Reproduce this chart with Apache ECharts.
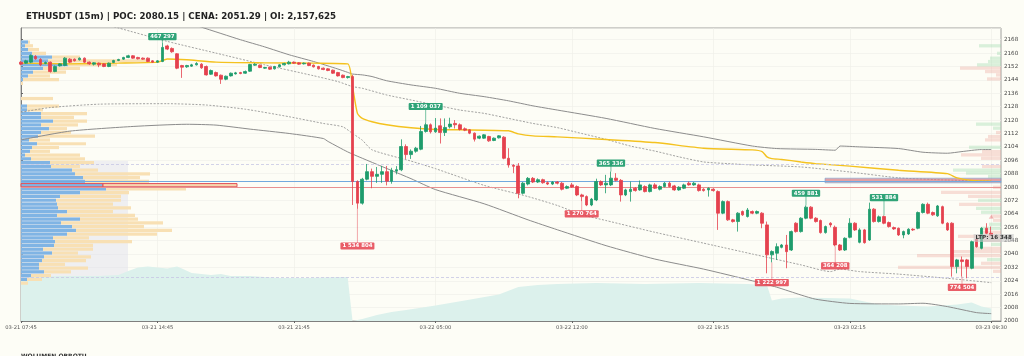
<!DOCTYPE html>
<html><head><meta charset="utf-8">
<script src="https://cdn.jsdelivr.net/npm/echarts@6/dist/echarts.min.js"></script>
<style>html,body{margin:0;padding:0;background:#fdfdf6}#c{width:1024px;height:356px}</style>
</head><body><div id="c"></div>
<script>
const TITLE = 'ETHUSDT (15m) | POC: 2080.15 | CENA: 2051.29 | OI: 2,157,625';
const FOOT = 'WOLUMEN OBROTU';
const tickIdx = [0, 28, 56, 85, 113, 142, 170, 199];
const tickLabels = ['03-21 07:45','03-21 14:45','03-21 21:45','03-22 05:00','03-22 12:00','03-22 19:15','03-23 02:15','03-23 09:30'];

// [open, close, low, high]
const candles = [
[2154.6,2153.4,2152.8,2155.2],[2154.0,2155.4,2153.6,2156.0],[2154.6,2158.6,2154.0,2159.2],[2158.0,2156.6,2156.0,2158.8],
[2156.2,2153.0,2152.2,2157.0],[2153.8,2154.4,2153.4,2155.0],[2154.6,2149.0,2148.4,2155.0],[2149.0,2152.0,2148.6,2152.6],
[2152.4,2153.6,2152.0,2154.0],[2152.6,2157.0,2152.2,2157.6],[2156.4,2154.6,2154.0,2157.0],[2156.4,2155.4,2155.0,2156.8],
[2156.0,2157.0,2155.6,2157.4],[2157.0,2154.6,2154.2,2157.4],[2154.6,2153.6,2153.0,2155.0],[2153.4,2154.2,2152.6,2154.6],
[2154.0,2153.0,2151.6,2154.4],[2153.6,2152.0,2151.6,2154.0],[2152.0,2154.0,2151.6,2154.4],[2154.4,2155.6,2154.0,2156.0],
[2155.6,2156.2,2155.2,2156.6],[2156.4,2157.4,2156.0,2157.8],[2157.4,2158.4,2157.0,2159.0],[2158.4,2157.0,2156.6,2158.8],
[2157.4,2156.6,2156.2,2157.8],[2157.0,2156.4,2156.0,2157.4],[2157.0,2155.0,2154.6,2157.4],[2155.4,2154.6,2154.2,2155.8],
[2154.6,2155.4,2154.2,2155.8],[2155.0,2163.4,2154.6,2166.0],
[2164.3,2162.4,2161.8,2165.0],[2162.8,2160.8,2160.2,2163.4],[2159.6,2151.0,2150.4,2160.0],[2152.6,2151.6,2145.2,2153.0],
[2151.8,2152.6,2151.2,2153.0],[2152.2,2153.0,2151.8,2153.6],[2153.0,2153.8,2152.6,2154.6],[2153.4,2151.2,2150.6,2154.0],
[2152.0,2147.0,2146.6,2152.6],[2147.4,2149.6,2147.0,2150.2],[2148.4,2146.4,2146.0,2149.0],[2146.8,2144.4,2141.6,2147.2],
[2144.4,2146.2,2143.8,2146.6],[2146.4,2148.0,2146.0,2148.4],[2147.6,2148.2,2147.2,2148.8],[2148.4,2147.8,2147.4,2148.8],
[2148.0,2149.0,2147.6,2149.6],[2149.2,2153.2,2148.8,2153.6],[2152.8,2153.4,2152.4,2154.0],[2152.8,2151.4,2151.0,2153.2],
[2151.0,2151.4,2150.6,2151.8],[2151.6,2150.4,2150.0,2152.0],[2150.6,2152.0,2150.2,2152.4],[2151.8,2153.0,2151.4,2153.4],
[2153.0,2153.8,2152.6,2154.2],[2153.6,2154.6,2153.2,2155.4],[2154.6,2154.0,2153.6,2155.0],[2154.2,2153.4,2153.0,2154.6],
[2153.6,2154.0,2153.2,2154.4],[2154.0,2152.6,2152.2,2154.4],[2152.8,2151.8,2151.4,2153.2],[2152.0,2150.6,2150.2,2152.4],
[2151.0,2150.2,2149.8,2151.4],[2150.6,2149.6,2149.2,2151.0],[2149.8,2148.0,2147.6,2150.2],[2148.4,2146.4,2146.0,2148.8],
[2146.8,2145.4,2145.0,2147.2],[2145.4,2146.0,2144.8,2146.4],
[2146.0,2083.3,2069.3,2147.0],[2083.3,2070.4,2067.0,2084.0],[2070.4,2084.7,2069.5,2085.5],[2084.7,2089.2,2084.0,2093.8],
[2089.2,2086.4,2079.3,2091.0],[2086.4,2087.6,2082.5,2092.0],[2087.6,2089.2,2082.5,2092.6],[2089.2,2083.5,2081.0,2092.6],
[2083.5,2090.0,2082.0,2091.5],[2089.5,2090.4,2087.6,2092.5],[2090.3,2104.2,2089.5,2108.5],[2104.2,2099.4,2096.8,2105.5],
[2099.4,2101.4,2096.8,2102.5],[2101.4,2103.2,2100.5,2104.0],[2102.6,2113.2,2102.0,2116.5],[2113.2,2117.2,2112.5,2118.5],
[2117.2,2113.0,2112.0,2118.0],[2113.0,2115.2,2112.4,2121.2],[2116.6,2112.6,2106.0,2121.0],[2112.6,2115.6,2110.5,2121.0],
[2116.0,2117.6,2115.0,2121.4],[2118.0,2117.2,2115.0,2120.0],
[2117.2,2114.4,2113.8,2118.0],[2114.8,2114.0,2113.4,2115.6],[2114.2,2112.2,2111.6,2114.6],[2112.2,2108.6,2107.2,2112.6],
[2109.2,2110.4,2108.6,2110.8],[2109.2,2111.2,2108.8,2111.6],[2110.2,2107.6,2107.0,2110.6],[2107.8,2109.2,2107.4,2109.6],
[2109.4,2110.6,2109.0,2111.0],[2109.8,2097.2,2096.6,2110.4],[2097.2,2093.2,2091.6,2103.2],[2093.0,2092.4,2088.3,2093.6],
[2092.6,2076.3,2073.3,2094.3],[2076.3,2082.3,2075.6,2083.0],[2081.8,2085.2,2081.0,2086.0],
[2085.2,2083.0,2082.4,2086.0],[2083.0,2084.4,2082.4,2085.2],[2084.4,2082.6,2082.0,2085.0],[2082.6,2081.8,2081.2,2083.4],
[2081.8,2083.0,2081.2,2083.6],[2083.0,2082.3,2081.6,2083.6],
[2082.3,2078.7,2078.0,2083.0],[2079.3,2080.3,2078.8,2081.0],[2081.3,2080.0,2079.5,2082.5],[2080.3,2075.3,2074.6,2081.0],
[2075.3,2074.3,2071.5,2076.0],[2074.3,2069.3,2068.6,2075.0],[2069.3,2072.8,2068.6,2073.5],[2072.3,2083.3,2071.6,2085.0],
[2083.3,2081.3,2080.6,2084.0],[2081.3,2082.3,2076.3,2087.3],[2081.3,2085.3,2080.6,2089.3],[2085.3,2084.0,2083.3,2088.3],
[2084.0,2075.3,2071.3,2084.8],[2075.3,2078.3,2074.6,2079.0],[2077.3,2078.7,2071.3,2083.3],[2079.3,2077.9,2077.3,2080.0],
[2078.3,2081.3,2077.8,2083.9],[2080.3,2077.3,2076.8,2081.0],[2077.3,2081.3,2076.8,2082.0],[2081.3,2079.3,2078.8,2082.3],
[2078.7,2080.3,2078.0,2081.0],[2080.3,2082.3,2079.8,2083.0],[2082.3,2080.3,2079.8,2083.3],[2080.7,2078.3,2077.8,2081.3],
[2078.3,2079.9,2077.8,2080.5],[2079.3,2081.3,2078.8,2082.0],[2082.3,2081.3,2080.8,2083.3],[2081.3,2082.3,2080.8,2083.0],
[2081.3,2077.9,2077.3,2082.0],[2078.7,2077.9,2077.3,2079.3],[2078.3,2079.3,2074.3,2079.8],[2078.7,2077.9,2077.3,2079.3],
[2077.3,2064.4,2054.4,2078.0],[2064.4,2071.3,2063.8,2072.0],[2071.3,2060.4,2059.8,2072.0],[2060.4,2059.4,2058.8,2061.0],
[2059.4,2064.4,2053.4,2065.0],[2065.4,2063.4,2062.8,2066.0],[2062.4,2066.3,2061.8,2067.5],[2065.4,2064.4,2063.8,2066.0],
[2064.4,2065.4,2063.8,2066.0],[2064.4,2058.4,2055.4,2065.0],[2057.4,2039.5,2028.5,2059.4],[2039.5,2041.5,2035.0,2042.2],
[2040.5,2044.4,2036.5,2046.4],[2044.0,2045.4,2043.4,2046.0],[2045.4,2041.4,2031.5,2051.4],[2042.4,2053.4,2041.8,2054.0],
[2058.4,2053.4,2052.8,2059.0],[2053.4,2061.4,2052.8,2062.0],[2061.4,2068.0,2060.8,2069.0],[2068.0,2061.4,2060.8,2068.6],
[2061.4,2059.4,2058.8,2062.0],[2060.0,2052.8,2052.2,2060.6],[2052.8,2056.4,2052.2,2057.0],[2058.4,2057.4,2056.0,2059.0],
[2056.0,2045.4,2044.6,2057.0],[2045.4,2042.4,2041.8,2046.0],[2042.4,2049.4,2041.8,2050.0],[2050.0,2058.4,2049.4,2061.4],
[2058.4,2054.4,2053.8,2059.0],[2047.0,2054.4,2046.4,2055.4],[2054.4,2046.8,2046.2,2055.0],[2048.4,2066.8,2047.8,2070.7],
[2066.8,2059.4,2058.8,2067.4],[2059.4,2062.2,2058.8,2063.0],[2062.4,2058.4,2057.8,2063.0],[2058.8,2056.4,2055.8,2059.4],
[2055.8,2055.0,2054.4,2056.4],[2055.4,2051.4,2050.8,2055.8],[2051.4,2053.4,2049.4,2054.0],[2052.0,2054.8,2051.4,2055.4],
[2054.8,2054.4,2053.8,2055.4],[2055.4,2064.8,2054.8,2065.4],[2064.8,2069.7,2064.2,2070.3],[2069.7,2064.4,2063.8,2070.7],
[2064.8,2063.4,2062.8,2065.4],[2062.8,2068.7,2062.2,2069.3],[2068.3,2058.4,2057.8,2068.9],[2058.4,2054.4,2053.8,2059.0],
[2058.4,2032.5,2026.5,2059.0],[2032.5,2036.5,2028.5,2037.1],[2036.5,2035.5,2026.5,2038.5],[2036.5,2032.5,2025.5,2037.1],
[2031.5,2047.4,2030.9,2048.0],[2048.8,2044.4,2043.8,2049.4],[2043.4,2055.4,2042.8,2056.0],[2055.4,2052.4,2051.8,2058.4],
[2052.4,2051.29,2050.8,2056.4]
];

// volume annotations: candle index, text, price where label sits
const annIdx   = [29, 69, 83, 115, 121, 154, 161, 167, 177, 193];
const annText  = ['467 297','1 534 804','1 109 037','1 270 764','365 336','1 222 997','459 881','364 208','531 884','774 504'];
const annPrice = [2169.8, 2044.8, 2128.1, 2064.0, 2094.3, 2022.9, 2076.3, 2032.9, 2073.7, 2020.1];
const annUp    = [1, 0, 1, 0, 1, 0, 1, 0, 1, 0];

const vwap = [[0,2154.0],[10,2153.6],[20,2154.0],[28,2154.6],[30,2156.5],[34,2156.0],[40,2154.6],[50,2154.2],[60,2154.0],[67,2153.6],
[68,2140],[69,2124],[70,2121],[72,2119.0],[75,2117.2],[80,2115.4],[85,2114.4],[90,2114.2],[100,2113.6],[102,2111.8],[105,2110.6],
[110,2110.0],[120,2108.4],[130,2106.6],[140,2103.2],[150,2102.2],[152,2101.2],[153,2098.0],[154,2097.0],[156,2096.5],[160,2095.0],
[163,2094.0],[170,2092.5],[180,2090.0],[190,2088.0],[192,2085.5],[195,2084.0],[199,2083.5]];
const upperSolid = [[20,2193],[30,2182],[37,2175.5],[45,2168],[50,2163.7],[55,2159],[60,2155],[65,2150.5],[67,2148.5],[68,2147.5],
[70,2147],[72,2146],[75,2143.5],[80,2141],[85,2139],[90,2136],[95,2134],[100,2131.5],[105,2128.5],[110,2126],[120,2121],[130,2115],
[140,2110],[150,2104.5],[155,2103],[163,2102.5],[167,2102],[168,2104.5],[172,2104],[180,2103],[185,2100.8],[190,2100.2],[193,2101.2],[197,2102.4],[199,2102.4]];
const upperDash = [[10,2182],[18,2176.5],[20,2175],[30,2167],[40,2160],[50,2153],[60,2146.5],[65,2143],[68,2140],[70,2139],[75,2135],[80,2132],
[85,2129],[90,2126],[95,2124],[100,2121],[105,2118],[110,2115.5],[115,2112],[120,2108.5],[125,2104.5],[130,2101.5],[135,2098],[140,2095],
[145,2094],[150,2093.2],[160,2092],[170,2089],[180,2085.5],[190,2084.2],[199,2083.5]];
const lowerDash = [[0,2124.7],[6,2127.5],[16,2129.5],[30,2129.8],[38,2129],[46,2126.5],[55,2122],[62,2118],[66,2116],[68,2112],[70,2108],
[72,2102.2],[80,2095.5],[85,2091],[95,2081],[104,2074.3],[110,2069],[115,2063.5],[120,2060],[130,2053],[140,2046.5],[142,2045.2],[150,2040],
[160,2033.5],[166,2029.5],[168,2031],[172,2029.5],[180,2028],[190,2025.5],[199,2022.9]];
const lowerSolid = [[0,2108.2],[10,2113.4],[23,2116.2],[34,2117.5],[40,2117],[47,2114.6],[55,2112],[62,2109],[63,2107.2],[67,2101],[70,2097.2],
[80,2085],[85,2078.5],[95,2070],[104,2060.4],[110,2054.5],[120,2045],[130,2037],[140,2031],[150,2024],[155,2020.2],[160,2015.5],[163,2013],
[170,2010.5],[180,2010.2],[185,2010.6],[190,2008.6],[196,2005],[199,2004.4]];

// turnover (area at bottom), arbitrary units
const turnover = [[0,88],[8,90],[16,90],[20,92],[22,100],[24,107],[26,109],[28,107],[30,105],[32,109],[33,105],[35,96],[37,94],[39,92],
[41,94],[43,90],[47,90],[53,86],[59,86],[65,88],[67,88],[68,0],[69,2],[70,4],[73,12],[76,18],[79,22],[85,31],[91,41],[98,53],[102,68],
[106,72],[110,74],[118,76],[128,74],[139,76],[149,74],[153,72],[154,41],[156,45],[160,47],[170,45],[176,33],[180,31],[186,29],[192,33],
[195,37],[197,29],[199,25]];

// left session volume profile: bins from POC bin, k = -26 .. 38
const profPOC = 2080.15, profBin = 2.25, profK0 = -26;
const profBlue  = [0,6,10,23,18,18,21,23,31,22,33,34,32,46,55,51,40,59,36,46,37,36,35,39,59,85,
  82, 64,62,54,51,30,29,10,4,9,11,16,8,17,20,28,20,32,20,20,6,6,0,0,0,0,0,0,2,7,12,22,47,27,31,11,7,4,7];
const profWheat = [7,15,20,27,49,26,44,47,26,50,39,77,36,90,96,72,102,58,78,46,73,56,65,61,49,80,
  134, 64,57,75,26,29,44,54,55,20,27,49,21,57,30,18,37,34,33,46,16,32,0,32,0,0,0,2,36,22,33,37,49,99,28,14,11,8,2];
const valueArea = [2026.3, 2095.5];

// right volume profile: bin low price, volume, side (1 buy / 0 sell)
const rLow  = [2163.4,2158.9,2156.0,2154.0,2152.0,2150.0,2148.0,2146.0,2143.6,2116.6,2114.2,2111.6,2109.2,2107.2,2102.8,2100.2,2098.2,2096.2,
  2091.3,2089.2,2087.3,2085.3,2078.9,2075.9,2073.5,2071.1,2068.7,2066.3,2064.0,2061.6,2059.2,2056.8,2054.4,2052.0,2049.6,2047.2,2044.8,2042.4,
  2040.4,2038.1,2035.7,2033.5,2031.1,2028.7];
const rVol  = [22,4,11,13,24,41,16,5,14,25,8,5,13,16,32,19,40,20,19,48,35,13,8,60,33,23,42,25,20,10,8,12,20,20,43,20,10,30,50,84,14,20,103,8];
const rSide = [1,1,1,1,1,0,0,0,0,1,1,0,0,0,1,0,0,0,0,1,1,1,0,0,0,1,0,1,1,0,0,1,1,0,0,0,1,0,0,0,1,0,0,0];
const rPOC = [2082.5, 2085.3, 176];

const hLines = { ref: 2083.5, poc: 2080.0, vah: 2093.8, val: 2026.3 };
const ltp = { idx: 196, price: 2049.6, text: 'LTP: 16 348' };
const marker = [[199, 2062.3]];

const GREEN = '#1e9c6c', RED = '#e5414e';
const nCat = 202;
const cats = [];
for (let i = 0; i < nCat; i++) { const t = tickIdx.indexOf(i); cats.push(t >= 0 ? tickLabels[t] : String(i)); }
const showTick = (idx) => tickIdx.indexOf(idx) >= 0;
const FONT = 'DejaVu Sans';

const profData = profBlue.map((b, j) => [profPOC + (profK0 + j) * profBin, b, profWheat[j]]);
const rData = rLow.map((p, j) => [p, rVol[j], rSide[j]]);

const chart = echarts.init(document.getElementById('c'), null, { renderer: 'canvas' });
chart.setOption({
  animation: false,
  backgroundColor: '#fdfdf6',
  textStyle: { fontFamily: FONT },
  title: { text: TITLE, left: 21, top: 7, textStyle: { fontSize: 8.7, fontWeight: 'bold', color: '#222', fontFamily: FONT } },
  graphic: [{ type: 'text', left: 21, top: 353.5, style: { text: FOOT, fontSize: 6, fontWeight: 'bold', fill: '#333', fontFamily: FONT } }],
  grid: { left: 21, right: 23, top: 28, bottom: 35, show: true, backgroundColor: '#fdfdf6', borderColor: '#888', borderWidth: 0.8 },
  xAxis: [
    { type: 'category', data: cats, boundaryGap: false,
      axisLine: { lineStyle: { color: '#666', width: 0.8 } },
      axisTick: { interval: (i) => showTick(i), length: 2, lineStyle: { color: '#666' } },
      axisLabel: { interval: (i) => showTick(i), fontSize: 5.2, color: '#555', margin: 4, fontFamily: FONT },
      splitLine: { show: true, interval: (i) => showTick(i), lineStyle: { color: '#eeeee8', width: 0.6 } } },
    { type: 'value', min: 0, max: 980, show: false },
    { type: 'value', min: 0, max: 980, inverse: true, show: false }
  ],
  yAxis: [
    { type: 'value', position: 'right', min: 2000, max: 2175, interval: 8,
      axisLine: { show: true, lineStyle: { color: '#666', width: 0.8 } },
      axisTick: { show: true, length: 2, lineStyle: { color: '#666' } },
      axisLabel: { fontSize: 5.6, color: '#444', margin: 3, showMaxLabel: false, fontFamily: FONT, formatter: (v) => String(v) },
      splitLine: { lineStyle: { color: '#efefe9', width: 0.6 } } },
    { type: 'value', min: 0, max: 586, show: false }
  ],
  series: [
    { type: 'line', name: 'turnover', xAxisIndex: 0, yAxisIndex: 1, data: turnover, symbol: 'none', z: 1,
      lineStyle: { width: 0 }, areaStyle: { color: '#dcf1ec', opacity: 1 }, silent: true },
    { type: 'custom', name: 'profileL', xAxisIndex: 1, yAxisIndex: 0, data: profData, z: 2, silent: true,
      markArea: { silent: true, itemStyle: { color: 'rgba(222,222,236,0.45)' },
        data: [[{ xAxis: 0, yAxis: valueArea[0] }, { xAxis: 107, yAxis: valueArea[1] }]] },
      renderItem: (params, api) => {
        const lo = api.value(0), b = api.value(1), w = api.value(2);
        if (b + w <= 0) return null;
        const hi = lo + profBin * 0.86;
        const a = api.coord([0, hi]), m = api.coord([b, lo]), e = api.coord([b + w, lo]);
        const isPoc = Math.abs(lo - profPOC) < 0.01;
        const stroke = isPoc ? { stroke: '#e0505a', lineWidth: 1 } : {};
        const ch = [];
        if (b > 0) ch.push({ type: 'rect', shape: { x: a[0], y: a[1], width: m[0] - a[0], height: m[1] - a[1] }, style: Object.assign({ fill: '#80b4e4' }, stroke) });
        if (w > 0) ch.push({ type: 'rect', shape: { x: m[0], y: a[1], width: e[0] - m[0], height: m[1] - a[1] }, style: Object.assign({ fill: isPoc ? '#f7d6ae' : '#f8e0b4' }, stroke) });
        return { type: 'group', children: ch };
      } },
    { type: 'custom', name: 'profileR', xAxisIndex: 2, yAxisIndex: 0, data: rData, z: 2, silent: true,
      renderItem: (params, api) => {
        const lo = api.value(0), v = api.value(1), s = api.value(2);
        const a = api.coord([v, lo + profBin * 0.86]), e = api.coord([0, lo]);
        return { type: 'rect', shape: { x: a[0], y: a[1], width: e[0] - a[0], height: e[1] - a[1] },
          style: { fill: s ? 'rgba(150,215,165,0.35)' : 'rgba(238,160,150,0.33)' } };
      } },
    { type: 'line', name: 'upperSolid', data: upperSolid, symbol: 'none', z: 3, lineStyle: { color: '#8c8c8c', width: 1 }, smooth: 0.2, silent: true },
    { type: 'line', name: 'upperDash', data: upperDash, symbol: 'none', z: 3, lineStyle: { color: '#8c8c8c', width: 0.8, type: [2, 1.5] }, smooth: 0.2, silent: true },
    { type: 'line', name: 'lowerDash', data: lowerDash, symbol: 'none', z: 3, lineStyle: { color: '#8c8c8c', width: 0.8, type: [2, 1.5] }, smooth: 0.2, silent: true },
    { type: 'line', name: 'lowerSolid', data: lowerSolid, symbol: 'none', z: 3, lineStyle: { color: '#8c8c8c', width: 1 }, smooth: 0.2, silent: true },
    { type: 'line', name: 'vwap', data: vwap, symbol: 'none', z: 4, lineStyle: { color: '#f4c21f', width: 1.4 }, smooth: 0.2, silent: true },
    { type: 'custom', name: 'rpoc', xAxisIndex: 2, yAxisIndex: 0, data: [rPOC], z: 4, silent: true,
      renderItem: (params, api) => {
        const a = api.coord([api.value(2), api.value(1)]), e = api.coord([0, api.value(0)]);
        return { type: 'rect', shape: { x: a[0], y: a[1], width: e[0] - a[0], height: e[1] - a[1] },
          style: { fill: 'rgba(214,120,130,0.7)', stroke: 'rgba(111,163,216,0.8)', lineWidth: 0.7 } };
      } },
    { type: 'candlestick', name: 'ETHUSDT', data: candles, barWidth: 3.2, z: 6,
      itemStyle: { color: GREEN, color0: RED, borderColor: GREEN, borderColor0: RED, borderWidth: 0.8 },
      markLine: { silent: true, symbol: 'none', label: { show: false }, animation: false,
        data: [
          { yAxis: hLines.vah, lineStyle: { color: '#c6c6e4', width: 0.8, type: [3, 2] } },
          { yAxis: hLines.val, lineStyle: { color: '#c6c6e4', width: 0.8, type: [3, 2] } },
          { yAxis: hLines.ref, lineStyle: { color: '#72a9de', width: 1, type: 'solid' } },
          { yAxis: hLines.poc, lineStyle: { color: '#e89090', width: 1, type: 'solid' } }
        ] } },
    { type: 'custom', name: 'volLabels', data: annIdx.map((i, k) => [i, annPrice[k]]), z: 8, silent: true,
      renderItem: (params, api) => {
        const k = params.dataIndex, i = annIdx[k], up = annUp[k];
        const c = candles[i];
        const anchor = api.coord([i, up ? c[3] : c[2]]);
        const lab = api.coord([i, annPrice[k]]);
        return { type: 'group', children: [
          { type: 'line', shape: { x1: anchor[0], y1: anchor[1], x2: lab[0], y2: lab[1] },
            style: { stroke: up ? 'rgba(30,156,108,0.6)' : 'rgba(229,65,78,0.45)', lineWidth: 1 } },
          { type: 'text', x: lab[0], y: lab[1], style: { text: annText[k], fill: '#fff', font: 'bold 5.4px DejaVu Sans',
            align: 'center', verticalAlign: 'middle', backgroundColor: up ? 'rgba(30,156,108,0.92)' : 'rgba(229,65,78,0.85)',
            padding: [1.2, 2, 1, 2], borderRadius: 1 } }
        ] };
      } },
    { type: 'custom', name: 'ltp', data: [[ltp.idx, ltp.price]], z: 9, silent: true,
      renderItem: (params, api) => {
        const p = api.coord([api.value(0), api.value(1)]);
        return { type: 'text', x: p[0] - 3, y: p[1], style: { text: ltp.text, fill: '#333', font: 'bold 5.6px DejaVu Sans',
          align: 'left', verticalAlign: 'middle', backgroundColor: 'rgba(200,200,200,0.6)', padding: [1, 2] } };
      } },
    { type: 'scatter', name: 'marker', data: marker, symbol: 'triangle', symbolSize: [5, 4], z: 9, silent: true,
      itemStyle: { color: 'rgba(229,65,78,0.4)' } }
  ]
});
</script>
</body></html>
